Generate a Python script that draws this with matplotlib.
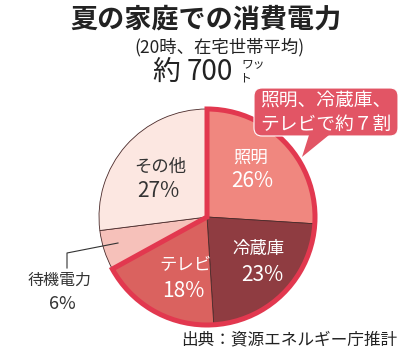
import matplotlib
matplotlib.use("Agg")
import matplotlib.pyplot as plt
from matplotlib.patches import Wedge, FancyBboxPatch, Polygon
import numpy as np

plt.rcParams['font.family'] = ['Noto Sans CJK JP', 'DejaVu Sans']

categories = ['照明', '冷蔵庫', 'テレビ', '待機電力', 'その他']
values = [26, 23, 18, 6, 27]
colors = ['#f0877f', '#8f3c41', '#da625f', '#f6c1ba', '#fce7e1']
label_colors = ['white', 'white', 'white', '#333333', '#333333']
highlight_n = 3  # first three categories highlighted

W, H = 414, 355
fig = plt.figure(figsize=(W / 100, H / 100), dpi=100)
ax = fig.add_axes([0, 0, 1, 1])

def Y(y):
    return H - y

cx, cy, R = 207, Y(217), 108

wedges, _ = ax.pie(values, colors=colors, startangle=90, counterclock=False,
                   center=(cx, cy), radius=R, frame=True,
                   wedgeprops=dict(edgecolor='#4a2a2a', linewidth=0.6))
ax.set_xlim(0, W)
ax.set_ylim(0, H)
ax.set_aspect('equal')
ax.axis('off')

# highlight outline around first three slices
frac = sum(values[:highlight_n]) / sum(values)
theta2 = 90
theta1 = 90 - frac * 360
ax.add_patch(Wedge((cx, cy), R, theta1, theta2, facecolor='none',
                   edgecolor='#e2384f', linewidth=3.6, joinstyle='miter', zorder=5))

# slice labels
label_pos = [(251, 158, 252, 181), (259, 249, 262, 275), (185, 265, 183, 291),
             (None, None, None, None), (160, 167, 158, 191)]
for i, (cat, v) in enumerate(zip(categories, values)):
    lx, ly, px, py = label_pos[i]
    if lx is None:
        continue
    ax.text(lx, Y(ly), cat, ha='center', va='center', fontsize=12.5,
            color=label_colors[i], zorder=6)
    ax.text(px, Y(py), f'{v}%', ha='center', va='center', fontsize=15,
            color=label_colors[i], zorder=6)

# standby label with leader
ax.plot([118, 67, 67], [Y(243), Y(253), Y(268)], color='#333333', lw=0.8, zorder=6)
ax.text(60, Y(280), categories[3], ha='center', va='center', fontsize=11.5, color='#333333')
ax.text(62, Y(304), f'{values[3]}%', ha='center', va='center', fontsize=13, color='#333333')

# callout bubble
bub = FancyBboxPatch((254, Y(136)), 144, 48, boxstyle='round,pad=0,rounding_size=8',
                     facecolor='#e25565', edgecolor='white', linewidth=0.8, zorder=7)
ax.add_patch(bub)
ax.add_patch(Polygon([(309, Y(135)), (329, Y(135)), (302, Y(157))], closed=True,
                     facecolor='#e25565', edgecolor='none', zorder=7))
ax.text(326, Y(101), '照明、冷蔵庫、', ha='center', va='center', fontsize=13.5,
        color='white', zorder=8)
ax.text(326, Y(124), 'テレビで約７割', ha='center', va='center', fontsize=13.5,
        color='white', zorder=8)

# titles
ax.text(206, Y(20), '夏の家庭での消費電力', ha='center', va='center', fontsize=19.5,
        fontweight='bold', color='#222222')
ax.text(219, Y(47), '(20時、在宅世帯平均)', ha='center', va='center', fontsize=12.5,
        color='#222222')
ax.text(166, Y(72), '約', ha='center', va='center', fontsize=20, color='#222222')
ax.text(210, Y(72), '700', ha='center', va='center', fontsize=20, color='#222222')
ax.text(253, Y(64), 'ワッ', ha='center', va='center', fontsize=8.5, color='#222222')
ax.text(245, Y(78), 'ト', ha='center', va='center', fontsize=8.5, color='#222222')

# source
ax.text(397, Y(340), '出典：資源エネルギー庁推計', ha='right', va='center', fontsize=12,
        color='#222222')

fig.savefig('out.png', dpi=100)
